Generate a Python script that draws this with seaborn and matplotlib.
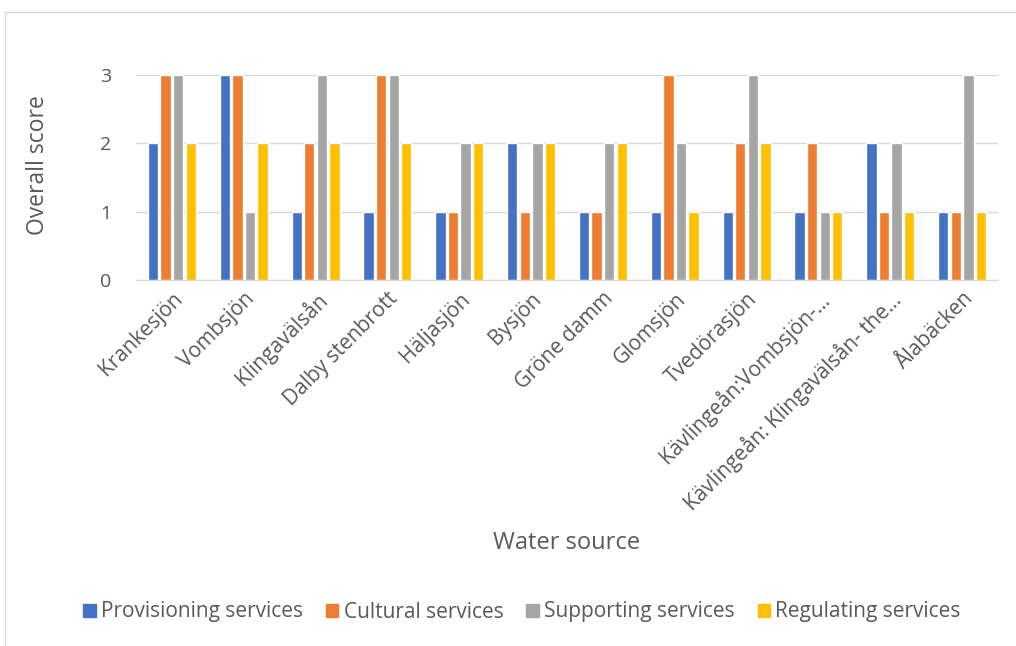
import pandas as pd
import matplotlib.pyplot as plt
import seaborn as sns
from matplotlib.patches import Rectangle

sources = ["Krankesjön", "Vombsjön", "Klingavälsån", "Dalby stenbrott", "Häljasjön",
           "Bysjön", "Gröne damm", "Glomsjön", "Tvedörasjön",
           "Kävlingeån:Vombsjön-...", "Kävlingeån: Klingavälsån- the...", "Ålabäcken"]
services = ["Provisioning services", "Cultural services", "Supporting services", "Regulating services"]
provisioning = [2, 3, 1, 1, 1, 2, 1, 1, 1, 1, 2, 1]
cultural = [3, 3, 2, 3, 1, 1, 1, 3, 2, 2, 1, 1]
supporting = [3, 1, 3, 3, 2, 2, 2, 2, 3, 1, 2, 3]
regulating = [2, 2, 2, 2, 2, 2, 2, 1, 2, 1, 1, 1]
colors = ["#4472C4", "#ED7D31", "#A5A5A5", "#FFC000"]

rows = []
for name, vals in zip(services, [provisioning, cultural, supporting, regulating]):
    for src, v in zip(sources, vals):
        rows.append({"source": src, "service": name, "score": v})
df = pd.DataFrame(rows)

sns.set_style("white")
plt.rcParams['font.family'] = ['Open Sans', 'DejaVu Sans']
txt = "#595959"

fig = plt.figure(figsize=(10.16, 6.46), dpi=100)
ax = fig.add_axes([136/1016, 1-280/646, 862/1016, 205/646])

sns.barplot(data=df, x="source", y="score", hue="service", hue_order=services,
            palette=colors, saturation=1, width=0.70, gap=0.18, ax=ax, legend=False)

ax.set_ylim(0, 3)
ax.set_yticks([0, 1, 2, 3])
ax.grid(axis="y", color="#D9D9D9", linewidth=1)
ax.set_axisbelow(True)
for s in ["top", "right", "left"]:
    ax.spines[s].set_visible(False)
ax.spines["bottom"].set_color("#D9D9D9")
ax.tick_params(axis="y", length=0, colors=txt, labelsize=14, pad=18)
ax.tick_params(axis="x", length=0, colors=txt, labelsize=15, pad=6)
plt.setp(ax.get_xticklabels(), rotation=45, ha="right", rotation_mode="anchor")

ax.set_xlabel("Water source", fontsize=17, color=txt)
ax.xaxis.set_label_coords((567-136)/862, (280-543)/205)
ax.xaxis.label.set_va("center")
ax.set_ylabel("Overall score", fontsize=16.5, color=txt)
ax.yaxis.set_label_coords((38-136)/862, (280-165)/205)
ax.yaxis.label.set_va("center")

handles = [Rectangle((0, 0), 1, 1, color=c) for c in colors]
fig.legend(handles, services, loc="center", bbox_to_anchor=(522/1016, 1-612/646),
           ncol=4, frameon=False, fontsize=15, labelcolor=txt,
           handlelength=0.6, handleheight=0.6, handletextpad=0.25, columnspacing=1.1)

fig.patches.append(Rectangle((5/1016, -0.1), 1.2, 0.1 + 1 - 12/646, transform=fig.transFigure,
                             fill=False, edgecolor="#D9D9D9", linewidth=1))

fig.savefig("out.png", dpi=100)
